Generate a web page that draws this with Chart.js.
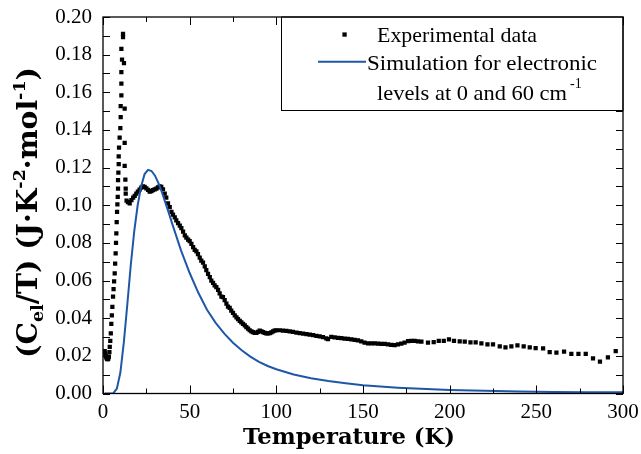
<!DOCTYPE html>
<html><head><meta charset="utf-8">
<script src="https://cdn.jsdelivr.net/npm/chart.js@4.4.1/dist/chart.umd.min.js"></script>
<style>html,body{margin:0;padding:0;background:#fff;}</style>
</head><body>
<canvas id="c" width="641" height="454"></canvas>
<script>
// ---- data ----
const expT = [1.0,1.3,1.6,1.9,2.2,2.5,2.8,3.1,3.4,3.7,3.9,4.2,4.5,4.8,5.1,5.4,5.8,6.1,6.4,6.75,7.0,7.3,7.5,7.7,7.9,8.1,8.3,8.5,8.67,8.67,8.87,9.06,9.06,9.25,9.6,10.0,10.2,10.2,10.6,10.6,10.6,10.97,10.6,11.55,11.55,12.1,12.5,12.5,12.5,12.9,13.1,13.1,13.6,14.4,15.4,16.4,17.4,18.3,19.2,20.1,21.1,22.1,23.0,24.0,25.0,26.0,26.9,27.9,28.8,29.8,30.8,31.7,32.7,33.6,34.6,35.6,36.5,37.5,38.5,39.5,40.4,41.4,42.3,43.3,44.3,45.2,46.2,47.2,48.1,49.1,50.0,51.0,52.0,52.9,53.9,54.8,55.8,56.7,57.7,58.7,59.6,60.6,61.6,62.5,63.5,64.4,65.4,66.4,67.3,68.3,69.2,70.2,71.2,72.1,73.1,74.0,75.0,76.0,77.0,77.9,78.9,79.8,80.8,81.8,82.7,83.7,84.6,85.6,86.5,87.5,88.5,89.4,90.4,91.4,92.3,93.3,94.2,95.2,96.2,97.1,98.1,99.0,100.0,101.9,103.8,105.8,107.7,109.6,111.6,113.5,115.5,117.4,119.3,121.2,123.1,125.0,126.9,128.8,129.8,131.7,133.6,135.6,137.5,139.4,141.3,143.3,145.2,147.1,149.0,150.9,152.9,154.8,156.7,158.7,160.6,162.5,164.4,166.3,168.3,170.2,172.1,174.0,176.0,177.9,179.8,181.7,183.7,187.5,190.8,193.7,196.6,199.6,202.5,205.8,208.7,212.0,215.0,218.3,221.8,225.0,228.9,232.2,235.6,239.1,242.7,246.2,249.6,253.9,257.7,261.6,266.0,270.2,274.3,278.5,282.7,286.7,291.3,295.8];
const expV = [0.0225,0.0212,0.0200,0.0192,0.0186,0.0183,0.0182,0.0186,0.0196,0.0220,0.0248,0.0280,0.0320,0.0370,0.0415,0.0460,0.0514,0.0555,0.0595,0.0638,0.0690,0.0744,0.0800,0.0850,0.0910,0.0965,0.1005,0.1044,0.1088,0.1133,0.1173,0.1218,0.1260,0.1306,0.1359,0.1410,0.1468,0.1527,0.1584,0.1646,0.1707,0.1773,0.1831,0.1893,0.1911,0.1755,0.1513,0.1331,0.1209,0.1136,0.1088,0.1062,0.1025,0.1017,0.1010,0.1027,0.1040,0.1050,0.1062,0.1072,0.1083,0.1094,0.1100,0.1098,0.1090,0.1082,0.1072,0.1075,0.1080,0.1084,0.1088,0.1095,0.1100,0.1097,0.1085,0.1062,0.1040,0.1010,0.0990,0.0965,0.0950,0.0935,0.0920,0.0905,0.0892,0.0878,0.0860,0.0840,0.0828,0.0818,0.0810,0.0795,0.0778,0.0763,0.0755,0.0740,0.0722,0.0706,0.0695,0.0675,0.0655,0.0635,0.0618,0.0600,0.0588,0.0575,0.0565,0.0550,0.0532,0.0515,0.0512,0.0496,0.0478,0.0462,0.0455,0.0440,0.0428,0.0415,0.0405,0.0395,0.0386,0.0378,0.0370,0.0362,0.0352,0.0344,0.0336,0.0330,0.0326,0.0322,0.0322,0.0327,0.0334,0.0330,0.0326,0.0322,0.0320,0.0319,0.0321,0.0325,0.0330,0.0334,0.0336,0.0336,0.0334,0.0333,0.0330,0.0327,0.0324,0.0321,0.0318,0.0316,0.0313,0.0310,0.0306,0.0303,0.0299,0.0293,0.0289,0.0301,0.0298,0.0296,0.0294,0.0292,0.0290,0.0287,0.0285,0.0282,0.0277,0.0270,0.0266,0.0266,0.0266,0.0265,0.0264,0.0263,0.0261,0.0258,0.0257,0.0261,0.0265,0.0270,0.0278,0.0280,0.0279,0.0277,0.0275,0.0270,0.0273,0.0280,0.0279,0.0288,0.0280,0.0277,0.0275,0.0272,0.0272,0.0266,0.0261,0.0261,0.0250,0.0245,0.0250,0.0256,0.0250,0.0245,0.0241,0.0240,0.0220,0.0217,0.0222,0.0211,0.0211,0.0211,0.0187,0.0169,0.0192,0.0225];

const simT = [1,2,4,6,8,10,12,14,16,18,20,22,24,26,28,30,32,34,36,38,40,45,50,55,60,65,70,75,80,85,90,95,100,110,120,130,140,150,160,170,180,190,200,220,240,260,280,300];
const simV = [0,0,0,0.0002,0.0026,0.0110,0.0270,0.0470,0.0680,0.0860,0.1000,0.1100,0.1166,0.1188,0.1182,0.1157,0.1118,0.1069,0.1014,0.0958,0.0900,0.0760,0.0640,0.0535,0.0445,0.0375,0.0318,0.0270,0.0230,0.0196,0.0168,0.0146,0.0129,0.0101,0.0081,0.0066,0.0054,0.0044,0.0037,0.0031,0.0026,0.0022,0.0019,0.0014,0.0011,0.0008,0.0007,0.0006];

const xTickValues = [0,50,100,150,200,250,300];
const xMinorValues = [25,75,125,175,225,275];
const yTickValues = [0,0.02,0.04,0.06,0.08,0.10,0.12,0.14,0.16,0.18,0.20];
const yMinorValues = [0.01,0.03,0.05,0.07,0.09,0.11,0.13,0.15,0.17,0.19];

const expLabel = 'Experimental data';
const simLabelLines = ['Simulation for electronic', 'levels at 0 and 60 cm', '-1'];
const xTitle = 'Temperature (K)';
const yTitleParts = [['(C','n'],['el','sub'],['/T) (J\u00B7K','n'],['-2','sup'],['\u00B7mol','n'],['-1','sup'],[')','n']];

// ---- styles ----
const BLUE = '#1f57a8';
const SERIF = '"Liberation Serif", "Times New Roman", serif';
const BOLDSERIF = '"DejaVu Serif", serif';

function richWidth(ctx, parts, size, family, weight) {
  let w = 0;
  for (const [t, k] of parts) {
    const s = k === 'n' ? size : size * 0.62;
    ctx.font = `${weight} ${s}px ${family}`;
    w += ctx.measureText(t).width;
  }
  return w;
}
function drawRich(ctx, parts, x, y, size, family, weight) {
  let cx = x;
  for (const [t, k] of parts) {
    const s = k === 'n' ? size : size * 0.62;
    ctx.font = `${weight} ${s}px ${family}`;
    let dy = 0;
    if (k === 'sub') dy = size * 0.22;
    if (k === 'sup') dy = -size * 0.42;
    ctx.fillText(t, cx, y + dy);
    cx += ctx.measureText(t).width;
  }
}
// draw text horizontally stretched to a target width
function fitText(ctx, text, x, y, size, targetW) {
  ctx.font = `${size}px ${SERIF}`;
  const w = ctx.measureText(text).width;
  ctx.save();
  ctx.translate(x, y);
  ctx.scale(targetW / w, 1);
  ctx.fillText(text, 0, 0);
  ctx.restore();
}

const decor = {
  id: 'decor',
  afterDatasetsDraw(chart) {
    const ctx = chart.ctx;
    const a = chart.chartArea;
    const xs = chart.scales.x, ys = chart.scales.y;
    ctx.save();
    // inward ticks
    ctx.strokeStyle = '#000';
    ctx.lineWidth = 1;
    ctx.beginPath();
    const xt = (vals, len) => vals.forEach(v => {
      const p = Math.round(xs.getPixelForValue(v)) + 0.5;
      ctx.moveTo(p, a.bottom); ctx.lineTo(p, a.bottom - len);
      ctx.moveTo(p, a.top); ctx.lineTo(p, a.top + len);
    });
    const yt = (vals, len) => vals.forEach(v => {
      const p = Math.round(ys.getPixelForValue(v)) + 0.5;
      ctx.moveTo(a.left, p); ctx.lineTo(a.left + len, p);
      ctx.moveTo(a.right, p); ctx.lineTo(a.right - len, p);
    });
    xt(xTickValues, 8); xt(xMinorValues, 5);
    yt(yTickValues, 7); yt(yMinorValues, 7);
    ctx.stroke();

    // legend box
    const lx = 281.5, lb = 110.5;
    ctx.fillStyle = '#fff';
    ctx.fillRect(lx, a.top, a.right - lx, lb - a.top);
    ctx.lineWidth = 1;
    ctx.strokeRect(lx, a.top, a.right - lx, lb - a.top);
    // frame
    ctx.lineWidth = 1.3;
    ctx.strokeRect(a.left, a.top, a.right - a.left, a.bottom - a.top);

    // legend items
    ctx.fillStyle = '#000';
    ctx.fillRect(342.4, 32.4, 4.3, 4.3);
    ctx.textAlign = 'left';
    ctx.textBaseline = 'alphabetic';
    fitText(ctx, expLabel, 377, 41.7, 21.8, 160);
    ctx.strokeStyle = BLUE; ctx.lineWidth = 2;
    ctx.beginPath(); ctx.moveTo(318, 61.7); ctx.lineTo(366, 61.7); ctx.stroke();
    fitText(ctx, simLabelLines[0], 367, 69.5, 21.8, 230);
    fitText(ctx, simLabelLines[1], 377, 100, 21.8, 190);
    ctx.font = `14px ${SERIF}`;
    ctx.fillText(simLabelLines[2], 377 + 190 + 3, 88);

    // x title
    let fs = 100;
    ctx.font = `bold ${fs}px ${BOLDSERIF}`;
    fs = fs * 212 / ctx.measureText(xTitle).width;
    ctx.font = `bold ${fs}px ${BOLDSERIF}`;
    ctx.textAlign = 'center';
    ctx.fillText(xTitle, 349, 444);

    // y title
    let ysz = 100;
    ysz = ysz * 291 / richWidth(ctx, yTitleParts, ysz, BOLDSERIF, 'bold');
    const yw = richWidth(ctx, yTitleParts, ysz, BOLDSERIF, 'bold');
    ctx.translate(36.8, 212.5);
    ctx.rotate(-Math.PI / 2);
    ctx.textAlign = 'left';
    drawRich(ctx, yTitleParts, -yw / 2, 0, ysz, BOLDSERIF, 'bold');
    ctx.restore();
  }
};

new Chart(document.getElementById('c'), {
  data: {
    datasets: [
      { type: 'line', label: simLabelLines.join(' '), data: simT.map((t, i) => ({ x: t, y: simV[i] })),
        borderColor: BLUE, borderWidth: 2, pointRadius: 0, tension: 0, fill: false, order: 1 },
      { type: 'scatter', label: expLabel, data: expT.map((t, i) => ({ x: t, y: expV[i] })),
        pointStyle: 'rect', pointRadius: 3, backgroundColor: '#000', borderWidth: 0, order: 2 }
    ]
  },
  options: {
    responsive: false, animation: false,
    layout: { padding: { top: 17, right: 18, left: 0, bottom: 0 } },
    plugins: { legend: { display: false }, tooltip: { enabled: false } },
    scales: {
      x: {
        type: 'linear', min: 0, max: 300,
        afterBuildTicks: s => { s.ticks = xTickValues.map(v => ({ value: v })); },
        ticks: { font: { family: SERIF, size: 21 }, color: '#000', padding: 6, maxRotation: 0, autoSkip: false, callback: v => String(v) },
        grid: { display: false, drawTicks: false }, border: { display: false },
        afterFit: s => { s.height = 60.5; s.paddingLeft = 0; s.paddingRight = 0; }
      },
      y: {
        type: 'linear', min: 0, max: 0.2,
        afterBuildTicks: s => { s.ticks = yTickValues.map(v => ({ value: v })); },
        ticks: { font: { family: SERIF, size: 21 }, color: '#000', padding: 11, autoSkip: false, callback: v => v.toFixed(2) },
        grid: { display: false, drawTicks: false }, border: { display: false },
        afterFit: s => { s.width = 103; s.paddingTop = 0; s.paddingBottom = 0; }
      }
    }
  },
  plugins: [decor]
});
</script>
</body></html>
